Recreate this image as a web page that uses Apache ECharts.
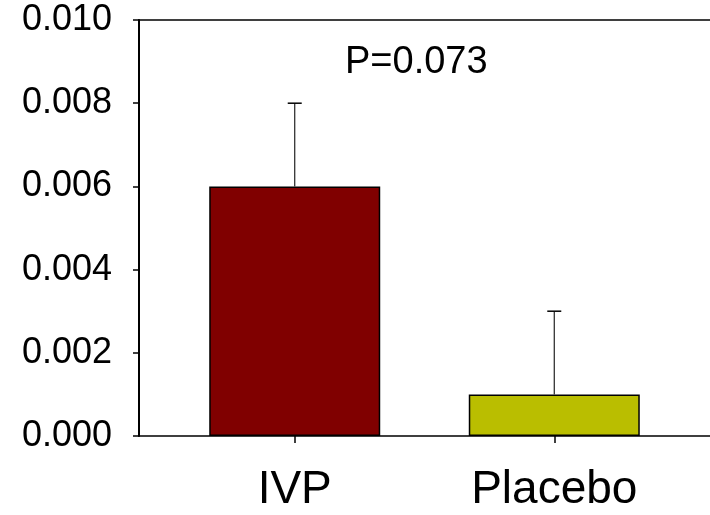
<!DOCTYPE html>
<html>
<head>
<meta charset="utf-8">
<script src="https://cdn.jsdelivr.net/npm/echarts@6/dist/echarts.min.js"></script>
<style>
html,body{margin:0;padding:0;background:#fff;}
#chart{width:710px;height:515px;}
</style>
</head>
<body>
<div id="chart"></div>
<script>
// ---- data ----
var categories = ['IVP', 'Placebo'];
var positions = [1, 2];
var means = [0.006, 0.001];
var upperErrors = [0.002, 0.002];
var barColors = ['#800000', '#BABE00'];
var yTicks = [0, 0.002, 0.004, 0.006, 0.008, 0.010];
var annotation = 'P=0.073';

var FONT = "'Liberation Sans', Arial, sans-serif";

var barData = positions.map(function (p, i) {
  return { value: [p, means[i]], itemStyle: { color: barColors[i] } };
});
var errData = positions.map(function (p, i) {
  return [p, means[i], means[i] + upperErrors[i]];
});

var chart = echarts.init(document.getElementById('chart'), null, { renderer: 'canvas' });
chart.setOption({
  animation: false,
  backgroundColor: '#fff',
  grid: { left: 139, top: 20, width: 578, height: 416 },
  xAxis: [{
    type: 'value',
    min: 0.4,
    max: 2.6,
    position: 'bottom',
    splitLine: { show: false },
    axisLine: { show: true, lineStyle: { color: '#000', width: 1.5 } },
    axisTick: { show: true, inside: false, length: 7, customValues: positions, lineStyle: { color: '#000', width: 1.5 } },
    axisLabel: {
      show: true,
      customValues: positions,
      margin: 31,
      fontSize: 46,
      lineHeight: 46,
      fontFamily: FONT,
      color: '#000',
      formatter: function (v) {
        var idx = positions.indexOf(Math.round(v));
        return idx >= 0 ? categories[idx] : '';
      }
    }
  }, {
    type: 'value',
    min: 0.4,
    max: 2.6,
    position: 'top',
    splitLine: { show: false },
    axisLine: { show: true, lineStyle: { color: '#000', width: 1.5 } },
    axisTick: { show: false },
    axisLabel: { show: false }
  }],
  yAxis: {
    type: 'value',
    min: yTicks[0],
    max: yTicks[yTicks.length - 1],
    interval: 0.002,
    splitLine: { show: false },
    axisLine: { show: true, lineStyle: { color: '#000', width: 2 } },
    axisTick: { show: true, inside: false, length: 6, lineStyle: { color: '#000', width: 1.5 } },
    axisLabel: {
      margin: 27,
      fontSize: 36,
      fontFamily: FONT,
      color: '#000',
      padding: [5, 0, 0, 0],
      formatter: function (v) { return v.toFixed(3); }
    }
  },
  graphic: [{
    type: 'text',
    left: 345,
    top: 44,
    style: {
      text: annotation,
      fontSize: 38,
      fontFamily: FONT,
      fill: '#000'
    },
    z: 100
  }],
  series: [{
    type: 'bar',
    xAxisIndex: 0,
    barWidth: 171,
    data: barData,
    itemStyle: { borderColor: '#000', borderWidth: 1.5 },
    z: 2
  }, {
    type: 'custom',
    xAxisIndex: 0,
    data: errData,
    z: 3,
    renderItem: function (params, api) {
      var x = api.value(0);
      var lo = api.coord([x, api.value(1)]);
      var hi = api.coord([x, api.value(2)]);
      var half = 7;
      return {
        type: 'group',
        children: [{
          type: 'line',
          shape: { x1: lo[0], y1: lo[1], x2: hi[0], y2: hi[1] },
          style: { stroke: '#222', lineWidth: 1.2 }
        }, {
          type: 'line',
          shape: { x1: hi[0] - half, y1: hi[1], x2: hi[0] + half, y2: hi[1] },
          style: { stroke: '#000', lineWidth: 1.5 }
        }]
      };
    }
  }]
});
</script>
</body>
</html>
